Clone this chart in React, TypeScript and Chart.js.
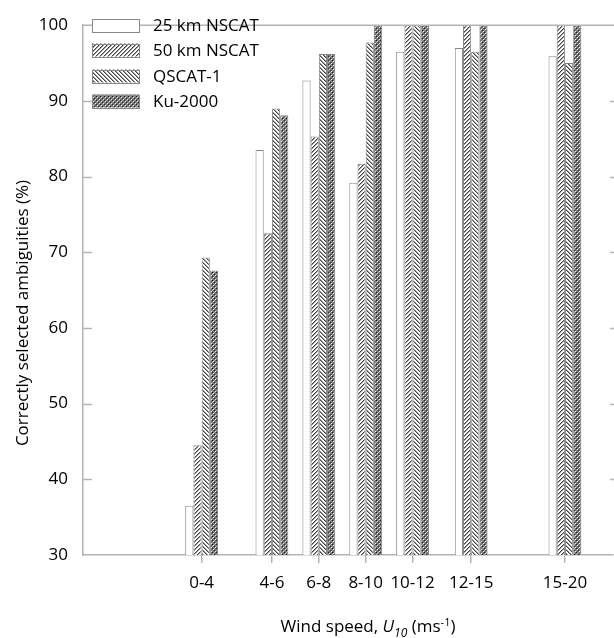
import React, { useEffect, useRef } from 'react';
import { Chart, registerables } from 'chart.js';

Chart.register(...registerables);

// ---- data ----
const categories = ['0-4', '4-6', '6-8', '8-10', '10-12', '12-15', '15-20'];
const binMidpoints = [2, 5, 7, 9, 11, 13.5, 17.5];
const yTickValues = [30, 40, 50, 60, 70, 80, 90, 100];
const seriesNames = ['25 km NSCAT', '50 km NSCAT', 'QSCAT-1', 'Ku-2000'];
const nscat25 = [36.5, 83.5, 92.7, 79.2, 96.5, 97.0, 95.9];
const nscat50 = [44.5, 72.5, 85.3, 81.7, 100, 100, 100];
const qscat1 = [69.3, 89.0, 96.2, 97.7, 100, 96.5, 95.0];
const ku2000 = [67.6, 88.1, 96.2, 100, 100, 100, 100];
const seriesValues = [nscat25, nscat50, qscat1, ku2000];

const FONT = "'Open Sans', 'DejaVu Sans', sans-serif";
const AXIS = '#b4b4b4';
const BAR_BORDER = '#888888';

function makePattern(kind: string): CanvasPattern | string {
  if (kind === 'white') return '#ffffff';
  const c = document.createElement('canvas');
  const s = 4;
  c.width = s;
  c.height = s;
  const g = c.getContext('2d')!;
  g.fillStyle = '#ffffff';
  g.fillRect(0, 0, s, s);
  const px = (x: number, y: number, col: string) => {
    g.fillStyle = col;
    g.fillRect(((x % s) + s) % s, ((y % s) + s) % s, 1, 1);
  };
  if (kind === 'fwd') {
    for (let i = 0; i < s; i++) {
      px(i, s - 1 - i, '#444444');
      px(i + 1, s - 1 - i, '#9a9a9a');
    }
  } else if (kind === 'back') {
    for (let i = 0; i < s; i++) {
      px(i, i, '#444444');
      px(i + 1, i, '#9a9a9a');
    }
  } else {
    g.fillStyle = '#707070';
    g.fillRect(0, 0, s, s);
    px(0, 0, '#262626');
    px(2, 2, '#262626');
    px(1, 1, '#eeeeee');
    px(3, 3, '#eeeeee');
    px(0, 2, '#a8a8a8');
    px(2, 0, '#a8a8a8');
  }
  return g.createPattern(c, 'repeat')!;
}

export default function App() {
  const ref = useRef<HTMLCanvasElement | null>(null);

  useEffect(() => {
    const canvas = ref.current!;
    const fills = [makePattern('white'), makePattern('fwd'), makePattern('back'), makePattern('check')];

    const decor = {
      id: 'decor',
      afterDraw(chart: any) {
        const { ctx, chartArea: a, scales } = chart;
        const y = scales.y;
        ctx.save();
        // keep the right side open (no frame line there)
        ctx.fillStyle = '#ffffff';
        ctx.fillRect(a.right - 1, a.top + 1, 3, a.bottom - a.top - 2);
        ctx.strokeStyle = AXIS;
        ctx.lineWidth = 1.5;
        const line = (x1: number, y1: number, x2: number, y2: number) => {
          ctx.beginPath();
          ctx.moveTo(x1, y1);
          ctx.lineTo(x2, y2);
          ctx.stroke();
        };
        // top frame line
        line(a.left, a.top, a.right + 1, a.top);
        // inward ticks
        yTickValues.forEach((v) => {
          if (v === 30 || v === 100) return;
          const py = Math.round(y.getPixelForValue(v)) + 0.5;
          line(a.left, py, a.left + 9, py);
          line(a.right - 3, py, a.right + 1, py);
        });

        // legend
        const lx = 92;
        const lw = 47;
        const lh = 13;
        const rows = [25, 50, 76, 101];
        ctx.font = `17px ${FONT}`;
        ctx.textBaseline = 'middle';
        ctx.textAlign = 'left';
        seriesNames.forEach((name, i) => {
          const cy = rows[i];
          ctx.fillStyle = fills[i] as any;
          ctx.fillRect(lx, cy - lh / 2, lw, lh);
          ctx.strokeStyle = BAR_BORDER;
          ctx.lineWidth = 1;
          ctx.strokeRect(lx + 0.5, Math.round(cy - lh / 2) + 0.5, lw, lh);
          ctx.fillStyle = '#000';
          ctx.fillText(name, 153, cy + 1);
        });

        // y title
        ctx.save();
        ctx.translate(23, 313);
        ctx.rotate(-Math.PI / 2);
        ctx.textAlign = 'center';
        ctx.textBaseline = 'middle';
        ctx.font = `17px ${FONT}`;
        ctx.fillStyle = '#000';
        ctx.fillText('Correctly selected ambiguities (%)', 0, 0);
        ctx.restore();

        // x title with italic U, subscript 10, superscript -1
        const parts: { t: string; font: string; dy: number }[] = [
          { t: 'Wind speed, ', font: `17px ${FONT}`, dy: 0 },
          { t: 'U', font: `italic 17px ${FONT}`, dy: 0 },
          { t: '10', font: `italic 12px ${FONT}`, dy: 5 },
          { t: ' (ms', font: `17px ${FONT}`, dy: 0 },
          { t: '-1', font: `11px ${FONT}`, dy: -6 },
          { t: ')', font: `17px ${FONT}`, dy: 0 },
        ];
        let total = 0;
        parts.forEach((p) => {
          ctx.font = p.font;
          total += ctx.measureText(p.t).width;
        });
        let cx = (a.left + a.right) / 2 + 20 - total / 2;
        const ty = 632;
        ctx.textAlign = 'left';
        ctx.textBaseline = 'alphabetic';
        ctx.fillStyle = '#000';
        parts.forEach((p) => {
          ctx.font = p.font;
          ctx.fillText(p.t, cx, ty + p.dy);
          cx += ctx.measureText(p.t).width;
        });
        ctx.restore();
      },
    };

    const chart = new Chart(canvas, {
      type: 'bar',
      data: {
        datasets: seriesNames.map((name, k) => ({
          label: name,
          data: binMidpoints.map((m, i) => ({ x: m, y: seriesValues[k][i] })),
          backgroundColor: fills[k] as any,
          borderColor: BAR_BORDER,
          borderWidth: 1,
          categoryPercentage: 0.7,
          barPercentage: 1.0,
        })),
      },
      options: {
        responsive: false,
        animation: false,
        events: [],
        layout: { padding: { top: 13, right: 1, left: 0, bottom: 0 } },
        plugins: {
          legend: { display: false },
          tooltip: { enabled: false },
          title: { display: false },
        },
        scales: {
          x: {
            type: 'linear',
            min: -3.06,
            max: 19.55,
            offset: false,
            afterBuildTicks: (s: any) => {
              s.ticks = binMidpoints.map((v) => ({ value: v }));
            },
            afterFit: (s: any) => {
              s.height = 83;
            },
            grid: {
              offset: false,
              drawOnChartArea: false,
              drawTicks: true,
              tickLength: 8,
              color: AXIS,
              lineWidth: 1.5,
            },
            border: { color: AXIS, width: 1.5 },
            ticks: {
              autoSkip: false,
              maxRotation: 0,
              padding: 10,
              color: '#000',
              font: { family: FONT, size: 17 },
              callback: (_v: any, i: number) => categories[i],
            },
          },
          y: {
            min: 30,
            max: 100,
            afterBuildTicks: (s: any) => {
              s.ticks = yTickValues.map((v) => ({ value: v }));
            },
            afterFit: (s: any) => {
              s.width = 83;
            },
            grid: { drawOnChartArea: false, drawTicks: false },
            border: { color: AXIS, width: 1.5 },
            ticks: {
              padding: 15,
              color: '#000',
              font: { family: FONT, size: 17 },
            },
          },
        },
      },
      plugins: [decor],
    } as any);

    return () => chart.destroy();
  }, []);

  return (
    <div style={{ position: 'fixed', left: 0, top: 0, width: 614, height: 638, background: '#fff' }}>
      <canvas ref={ref} width={614} height={638} style={{ display: 'block' }} />
    </div>
  );
}
